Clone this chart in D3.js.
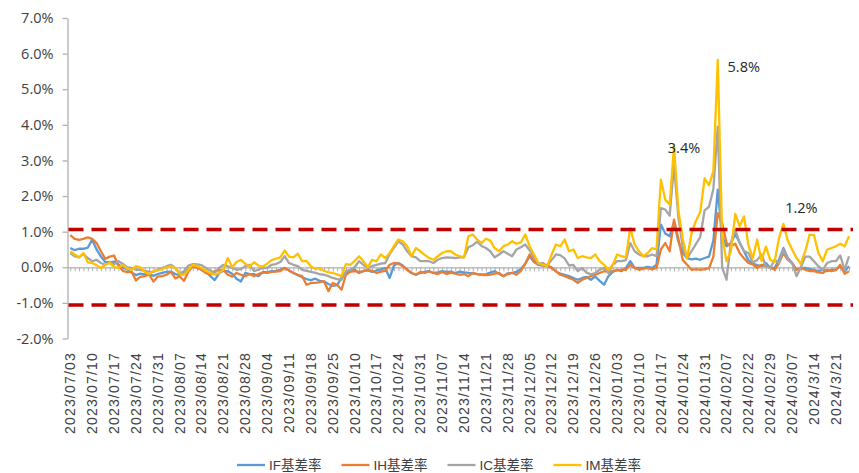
<!DOCTYPE html>
<html><head><meta charset="utf-8">
<script src="https://cdn.jsdelivr.net/npm/d3@7"></script>
<style>body{margin:0;background:#fff;} svg{display:block;}</style>
</head><body>
<svg id="chart" width="859" height="473"></svg>
<script>
// ---------- data ----------
const tickLabels = ["2023/07/03","2023/07/10","2023/07/17","2023/07/24","2023/07/31","2023/08/07","2023/08/14","2023/08/21","2023/08/28","2023/09/04","2023/09/11","2023/09/18","2023/09/25","2023/10/10","2023/10/17","2023/10/24","2023/10/31","2023/11/07","2023/11/14","2023/11/21","2023/11/28","2023/12/05","2023/12/12","2023/12/19","2023/12/26","2023/01/03","2023/01/10","2024/01/17","2024/01/24","2024/01/31","2024/02/07","2024/02/22","2024/02/29","2024/03/07","2024/3/14","2024/3/21"];
const tickEvery = 5;
const yTicks = [7,6,5,4,3,2,1,0,-1,-2];
const seriesNames = ["IF基差率","IH基差率","IC基差率","IM基差率"];

const IF = [0.54,0.48,0.52,0.52,0.55,0.78,0.50,0.30,0.15,0.14,
0.16,0.08,0.00,-0.06,-0.15,-0.22,-0.18,-0.20,-0.19,-0.24,
-0.19,-0.16,-0.13,-0.12,-0.19,-0.21,-0.17,-0.05,0.02,0.00,
-0.07,-0.11,-0.25,-0.36,-0.17,-0.10,-0.11,-0.18,-0.32,-0.40,
-0.16,-0.19,-0.19,-0.25,-0.14,-0.14,-0.11,-0.10,-0.07,-0.02,
-0.09,-0.16,-0.22,-0.28,-0.33,-0.36,-0.32,-0.38,-0.40,-0.47,
-0.52,-0.50,-0.30,-0.14,-0.11,-0.07,-0.16,-0.11,-0.09,-0.13,
-0.09,-0.06,-0.02,-0.30,0.05,0.12,0.05,-0.07,-0.16,-0.21,
-0.16,-0.13,-0.11,-0.16,-0.14,-0.11,-0.13,-0.12,-0.16,-0.12,
-0.14,-0.16,-0.17,-0.19,-0.21,-0.19,-0.15,-0.11,-0.18,-0.25,
-0.17,-0.16,-0.13,-0.05,0.10,0.31,0.15,0.07,0.05,0.03,
0.00,-0.12,-0.18,-0.21,-0.25,-0.30,-0.35,-0.30,-0.27,-0.35,
-0.26,-0.38,-0.49,-0.25,-0.13,-0.07,-0.11,-0.02,0.17,-0.02,
-0.02,-0.02,0.01,-0.02,0.07,1.20,0.95,0.87,1.27,0.72,
0.40,0.26,0.22,0.24,0.21,0.26,0.30,0.75,2.18,0.85,
0.59,0.68,0.92,0.70,0.45,0.20,0.10,0.06,0.03,0.12,
-0.02,-0.02,0.21,0.54,0.26,0.12,-0.07,-0.02,-0.02,-0.05,
-0.07,-0.11,-0.07,-0.11,-0.07,-0.07,0.03,-0.11,0.03];

const IH = [0.90,0.80,0.77,0.80,0.84,0.80,0.68,0.45,0.24,0.30,
0.33,0.05,-0.10,-0.14,-0.12,-0.37,-0.27,-0.25,-0.20,-0.40,
-0.26,-0.25,-0.21,-0.13,-0.31,-0.26,-0.38,-0.12,0.03,-0.02,
-0.07,-0.16,-0.21,-0.11,-0.09,-0.07,-0.21,-0.26,-0.16,-0.21,
-0.25,-0.19,-0.25,-0.19,-0.14,-0.16,-0.13,-0.12,-0.11,-0.02,
-0.09,-0.16,-0.21,-0.25,-0.49,-0.44,-0.44,-0.42,-0.39,-0.67,
-0.44,-0.49,-0.63,-0.21,-0.13,-0.11,-0.13,-0.11,-0.07,-0.10,
-0.16,-0.12,-0.10,0.07,0.12,0.10,0.03,-0.07,-0.16,-0.21,
-0.13,-0.16,-0.11,-0.16,-0.19,-0.13,-0.19,-0.15,-0.18,-0.21,
-0.19,-0.25,-0.16,-0.19,-0.21,-0.22,-0.21,-0.18,-0.16,-0.25,
-0.19,-0.16,-0.21,-0.10,0.10,0.36,0.17,0.07,0.06,0.07,
-0.02,-0.11,-0.21,-0.25,-0.30,-0.35,-0.44,-0.35,-0.30,-0.25,
-0.21,-0.16,-0.11,-0.13,-0.11,-0.09,-0.07,-0.07,0.07,-0.02,
-0.07,-0.04,-0.02,-0.06,-0.02,0.50,0.68,0.45,1.34,0.80,
0.20,0.07,-0.07,-0.05,-0.07,-0.05,-0.03,0.30,1.52,1.24,
0.68,0.59,0.66,0.40,0.25,0.12,0.08,-0.02,0.07,0.03,
0.00,-0.07,0.12,0.40,0.21,0.12,-0.07,-0.02,-0.07,-0.11,
-0.11,-0.14,-0.16,-0.07,-0.11,-0.08,0.07,-0.18,-0.11];

const IC = [0.40,0.31,0.28,0.37,0.26,0.17,0.21,0.12,0.07,0.15,
0.08,0.17,0.10,0.00,-0.02,-0.07,-0.07,-0.10,-0.12,-0.13,
-0.07,-0.02,0.03,0.07,-0.02,-0.16,-0.11,0.05,0.09,0.08,
0.06,-0.02,-0.09,-0.16,-0.02,0.07,0.03,-0.02,-0.07,-0.05,
0.03,0.07,-0.11,-0.07,-0.02,-0.02,0.07,0.09,0.15,0.31,
0.12,0.07,0.03,-0.07,-0.10,-0.13,-0.16,-0.19,-0.21,-0.25,
-0.30,-0.33,-0.35,-0.11,-0.07,0.00,0.17,0.07,-0.02,0.03,
0.07,0.10,0.12,0.37,0.55,0.73,0.64,0.45,0.31,0.28,
0.17,0.17,0.17,0.12,0.21,0.26,0.28,0.27,0.26,0.28,
0.28,0.56,0.62,0.72,0.60,0.54,0.45,0.28,0.36,0.45,
0.38,0.31,0.50,0.56,0.64,0.48,0.28,0.10,0.12,0.04,
0.20,0.36,0.34,0.25,0.05,0.07,-0.11,-0.02,-0.15,-0.20,
-0.16,-0.07,-0.02,-0.16,0.07,0.17,0.17,0.20,0.68,0.45,
0.36,0.31,0.31,0.36,0.31,1.66,1.62,1.45,2.85,1.40,
0.55,0.25,0.45,0.65,0.85,1.60,1.70,2.20,3.95,0.00,
-0.35,0.70,1.06,0.68,0.45,0.40,0.14,0.20,0.36,0.03,
-0.02,0.21,0.12,0.50,0.22,0.12,-0.25,0.00,0.30,0.30,
0.17,0.03,-0.07,0.12,0.17,0.17,0.33,-0.07,0.31];

const IM = [0.45,0.36,0.28,0.40,0.14,0.12,0.06,-0.02,0.07,0.12,
0.02,-0.02,0.07,-0.04,-0.07,0.03,0.00,-0.13,-0.19,-0.11,
-0.09,-0.05,0.00,0.03,-0.02,-0.19,-0.21,-0.07,0.07,0.03,
-0.02,-0.10,-0.16,-0.21,-0.16,-0.07,0.26,0.00,0.15,0.21,
0.10,0.02,0.14,0.05,0.02,0.10,0.20,0.24,0.28,0.47,
0.30,0.28,0.38,0.17,0.18,0.02,-0.04,-0.04,-0.10,-0.14,
-0.16,-0.20,-0.25,0.09,0.07,0.18,0.31,0.17,0.00,0.21,
0.17,0.36,0.26,0.40,0.60,0.78,0.73,0.59,0.31,0.54,
0.45,0.35,0.26,0.21,0.31,0.40,0.45,0.45,0.36,0.31,
0.28,0.87,0.92,0.78,0.68,0.80,0.75,0.54,0.45,0.59,
0.64,0.73,0.66,0.70,0.92,0.59,0.36,0.12,0.07,0.03,
0.35,0.64,0.59,0.78,0.45,0.50,0.26,0.31,0.28,0.26,
0.36,0.17,0.07,-0.06,0.07,0.36,0.31,0.28,1.10,0.64,
0.45,0.31,0.40,0.54,0.50,2.46,1.90,1.76,3.39,1.60,
0.80,0.25,0.95,1.30,1.55,2.50,2.30,2.70,5.82,0.87,
0.17,0.45,1.50,1.15,1.43,0.62,0.25,0.78,0.18,0.58,
0.21,0.15,0.82,1.22,0.75,0.50,0.26,0.10,0.45,0.92,
0.90,0.40,0.17,0.50,0.54,0.59,0.66,0.59,0.87];

const thresholds = [1.06, -1.06];
const annIndex = [138, 148, 163];
const annText = ["3.4%", "5.8%", "1.2%"];

// ---------- styles / layout ----------
const colors = ["#5B9BD5","#ED7D31","#A5A5A5","#FFC000"];
const annOffset = [[10,6.5],[26,11.5],[18,-11]];
const axisColor = "#AFAFAF";
const textColor = "#404040";

const svg = d3.select("#chart");
const n = IF.length;
const idx = d3.range(n);
const x = d3.scalePoint().domain(idx).range([70.3, 849]);
const y = d3.scaleLinear().domain([-2, 7]).range([338.5, 18]);

// y axis
const yAxis = svg.append("g").attr("transform","translate(67.5,0)")
  .call(d3.axisLeft(y).tickValues(yTicks).tickSize(5).tickSizeOuter(0).tickPadding(9)
    .tickFormat(d => d.toFixed(1) + "%"));
yAxis.select(".domain").attr("stroke", axisColor).attr("stroke-width",1.3);
yAxis.selectAll(".tick line").attr("stroke", axisColor).attr("stroke-width",1.3);
yAxis.selectAll(".tick text").attr("fill", textColor)
  .style("font-family","'Open Sans', 'Liberation Sans', sans-serif").style("font-size","14.5px");

// x axis at zero
const xAxis = svg.append("g").attr("transform",`translate(0,${y(0)})`)
  .call(d3.axisBottom(x).tickValues(idx).tickSize(4).tickSizeOuter(0).tickFormat(""));
xAxis.select(".domain").attr("d","M67.5,0.5H850.5").attr("stroke", axisColor).attr("stroke-width",1.3);
xAxis.selectAll(".tick line").attr("stroke", axisColor).attr("stroke-width",1);

// x tick labels
svg.append("g").selectAll("text").data(tickLabels).join("text")
  .attr("transform",(d,k) => `translate(${x(k*tickEvery)},352) rotate(-90)`)
  .attr("text-anchor","end").attr("dy","0.35em")
  .attr("fill", textColor)
  .style("font-family","'Liberation Sans', Arial, sans-serif").style("font-size","14px")
  .style("letter-spacing","1.2px")
  .text(d => d);

// series
const allSeries = [IF, IH, IC, IM];
const line = d3.line().x((d,i) => x(i)).y(d => y(d));
svg.append("g").selectAll("path").data(allSeries).join("path")
  .attr("d", d => line(d))
  .attr("fill","none")
  .attr("stroke",(d,k) => colors[k])
  .attr("stroke-width",2.3)
  .attr("stroke-linejoin","round");

// threshold lines
svg.append("g").selectAll("line").data(thresholds).join("line")
  .attr("x1",68.5).attr("x2",853)
  .attr("y1",d => y(d)).attr("y2",d => y(d))
  .attr("stroke","#C00000").attr("stroke-width",3.5)
  .attr("stroke-dasharray","15,8");

// annotations
svg.append("g").selectAll("text").data(annIndex).join("text")
  .attr("x",(d,k) => x(d) + annOffset[k][0])
  .attr("y",(d,k) => y(IM[d]) + annOffset[k][1])
  .attr("text-anchor","middle")
  .attr("fill","#262626")
  .style("font-family","'Open Sans', 'Liberation Sans', sans-serif").style("font-size","14.5px")
  .text((d,k) => annText[k]);

// legend
const legend = svg.append("g");
let lx = 237;
seriesNames.forEach((name,k) => {
  legend.append("line").attr("x1",lx).attr("x2",lx+28).attr("y1",465).attr("y2",465)
    .attr("stroke",colors[k]).attr("stroke-width",2.3);
  const t = legend.append("text").attr("x",lx+32).attr("y",470)
    .attr("fill", textColor)
    .style("font-family","'Liberation Sans', 'Noto Sans CJK SC', sans-serif").style("font-size","13.5px")
    .text(name);
  lx += 32 + t.node().getComputedTextLength() + 20;
});
</script>
</body></html>
